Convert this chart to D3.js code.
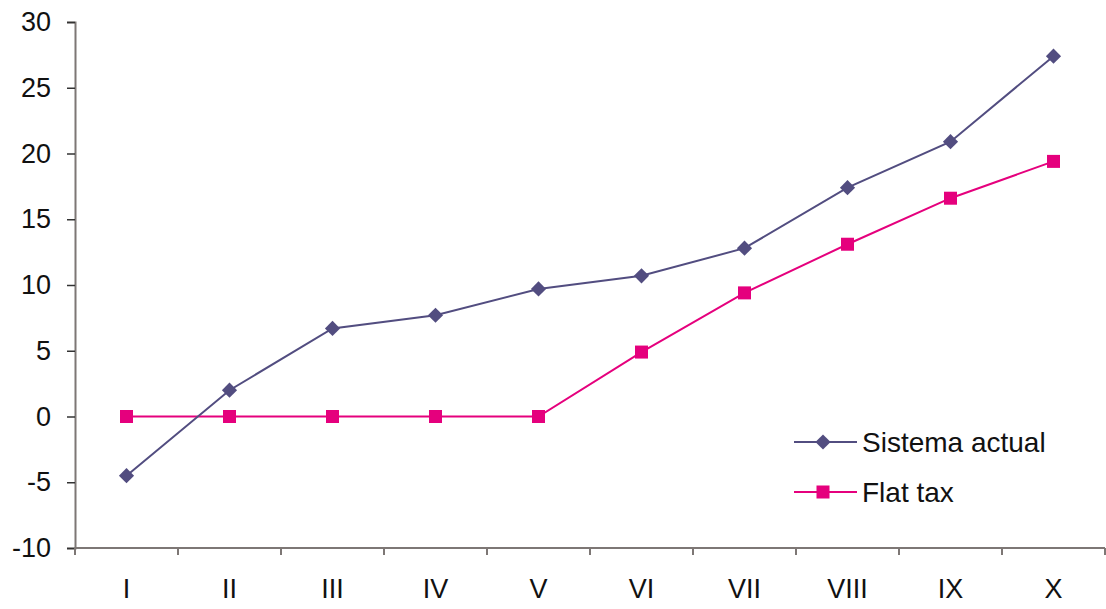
<!DOCTYPE html>
<html>
<head>
<meta charset="utf-8">
<script src="https://cdn.jsdelivr.net/npm/d3@7"></script>
<style>
  html, body { margin: 0; padding: 0; background: #fff; }
  svg { display: block; font-family: "Liberation Sans", Arial, sans-serif; }
</style>
</head>
<body>
<svg id="chart" width="1106" height="609"></svg>
<script>
// Deciles of income and the change under each system
const categories = ["I", "II", "III", "IV", "V", "VI", "VII", "VIII", "IX", "X"];
const sistemaActual = [-4.5, 2.0, 6.7, 7.7, 9.7, 10.7, 12.8, 17.4, 20.9, 27.4];
const flatTax = [0, 0, 0, 0, 0, 4.9, 9.4, 13.1, 16.6, 19.4];
const yTicks = [-10, -5, 0, 5, 10, 15, 20, 25, 30];
const seriesNames = ["Sistema actual", "Flat tax"];

(function () {
  const svg = d3.select("#chart");
  const plotLeft = 75, plotRight = 1105, plotTop = 22, plotBottom = 548;
  const axisColor = "#7d7775";
  const purple = "#524d80";
  const pink = "#e5007d";
  const fontSize = 27;

  const x = d3.scaleBand().domain(categories).range([plotLeft, plotRight]).paddingInner(0).paddingOuter(0);
  const y = d3.scaleLinear().domain([-10, 30]).range([plotBottom, plotTop]);

  // Y axis
  const yAxis = svg.append("g")
    .attr("transform", `translate(${plotLeft},0)`)
    .call(d3.axisLeft(y).tickValues(yTicks).tickSize(8).tickPadding(16).tickFormat(d => String(d)));
  yAxis.select(".domain").attr("stroke", axisColor).attr("stroke-width", 2);
  yAxis.selectAll(".tick line").attr("stroke", "#333").attr("stroke-width", 1.5);
  yAxis.selectAll(".tick text").attr("font-size", fontSize).attr("fill", "#111")
    .attr("font-family", "'Liberation Sans', Arial, sans-serif");

  // X axis: ticks sit between categories
  const xAxis = svg.append("g").attr("transform", `translate(0,${plotBottom})`);
  xAxis.append("line").attr("x1", plotLeft).attr("x2", plotRight).attr("stroke", axisColor).attr("stroke-width", 2);
  const boundaries = categories.map(c => x(c)).concat([x(categories[categories.length - 1]) + x.bandwidth()]);
  xAxis.selectAll(".btick").data(boundaries).join("line")
    .attr("x1", d => d).attr("x2", d => d).attr("y1", 0).attr("y2", 7)
    .attr("stroke", axisColor).attr("stroke-width", 2);
  xAxis.selectAll(".xlabel").data(categories).join("text")
    .attr("x", d => x(d) + x.bandwidth() / 2)
    .attr("y", 50)
    .attr("text-anchor", "middle")
    .attr("font-size", fontSize).attr("fill", "#111")
    .text(d => d);

  const cx = d => x(d) + x.bandwidth() / 2;
  const line = d3.line().x((d, i) => cx(categories[i])).y(d => y(d));

  // Flat tax series
  const sq = 13;
  svg.append("path").datum(flatTax).attr("d", line)
    .attr("fill", "none").attr("stroke", pink).attr("stroke-width", 2);
  svg.selectAll(".sq").data(flatTax).join("rect")
    .attr("x", (d, i) => cx(categories[i]) - sq / 2).attr("y", d => y(d) - sq / 2)
    .attr("width", sq).attr("height", sq).attr("fill", pink);

  // Sistema actual series: rotated-square markers
  const diamond = d3.symbol().type(d3.symbolSquare).size(115);
  svg.append("path").datum(sistemaActual).attr("d", line)
    .attr("fill", "none").attr("stroke", purple).attr("stroke-width", 2);
  svg.selectAll(".dm").data(sistemaActual).join("path")
    .attr("d", diamond)
    .attr("transform", (d, i) => `translate(${cx(categories[i])},${y(d)}) rotate(45)`)
    .attr("fill", purple);

  // Legend
  const legend = svg.append("g");
  const legendRows = [
    { name: seriesNames[0], color: purple, marker: "diamond", y: 442 },
    { name: seriesNames[1], color: pink, marker: "square", y: 492 }
  ];
  legendRows.forEach(r => {
    legend.append("line").attr("x1", 794).attr("x2", 857).attr("y1", r.y).attr("y2", r.y)
      .attr("stroke", r.color).attr("stroke-width", 2);
    if (r.marker === "diamond") {
      legend.append("path").attr("d", diamond).attr("transform", `translate(823,${r.y}) rotate(45)`).attr("fill", r.color);
    } else {
      legend.append("rect").attr("x", 823 - sq / 2).attr("y", r.y - sq / 2).attr("width", sq).attr("height", sq).attr("fill", r.color);
    }
    legend.append("text").attr("x", 862).attr("y", r.y + 10).attr("font-size", 28).attr("fill", "#111").text(r.name);
  });
})();
</script>
</body>
</html>
